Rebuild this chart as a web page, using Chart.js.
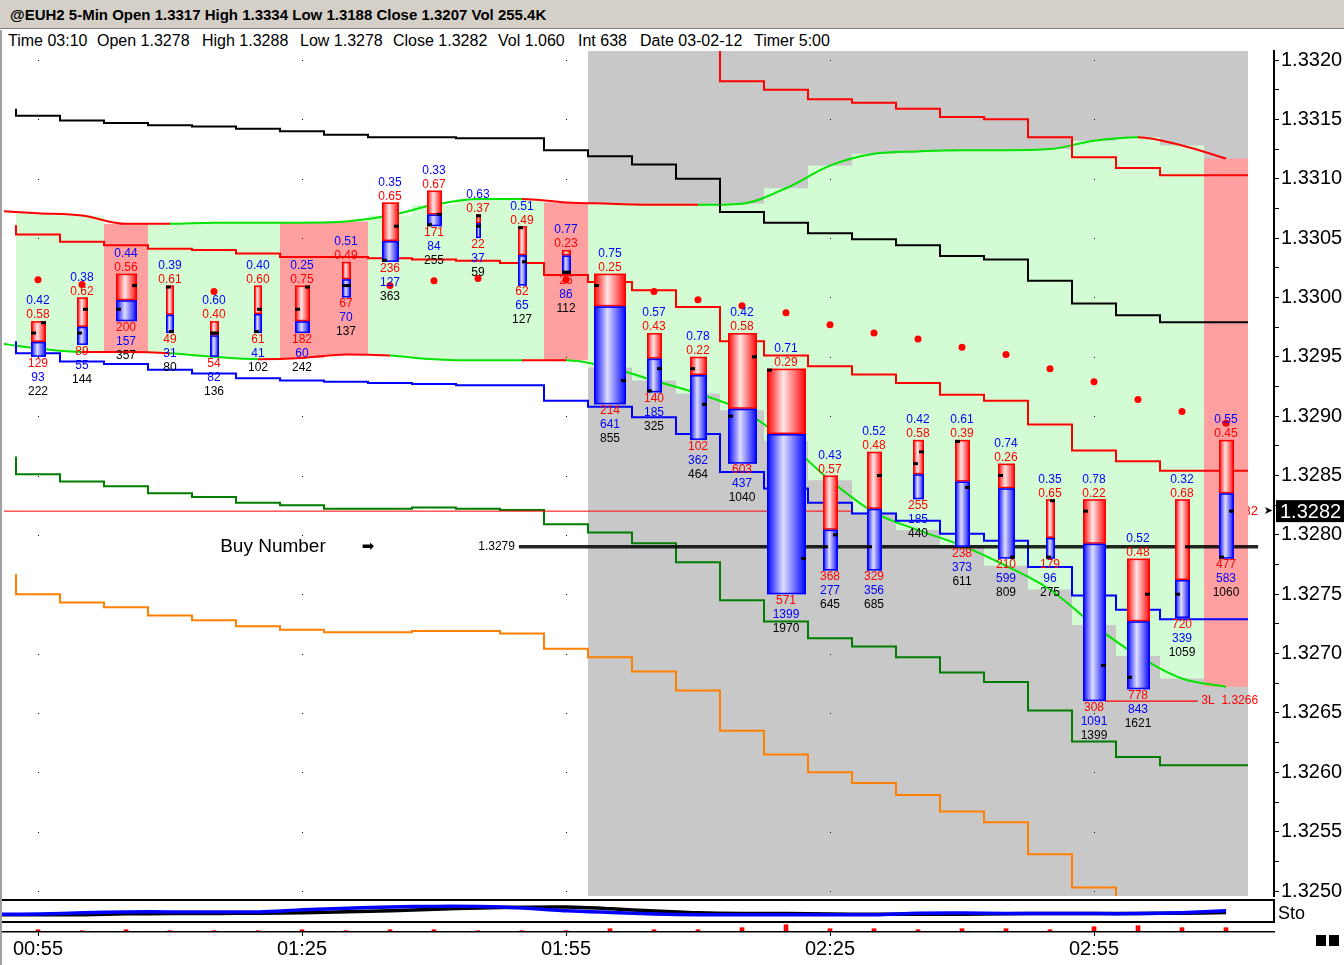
<!DOCTYPE html>
<html>
<head>
<meta charset="utf-8">
<title>@EUH2 5-Min</title>
<script src="https://cdn.jsdelivr.net/npm/chart.js@4.4.1/dist/chart.umd.min.js"></script>
<style>
  body { margin: 0; width: 1344px; height: 965px; overflow: hidden; background: #fff; position: relative;
         font-family: 'Liberation Sans', Arial, sans-serif; }
  .abs { position: absolute; }
  #title { left: 0; top: 0; width: 1344px; height: 29px; background: #d4d0c8; border-bottom: 1px solid #808080;
           box-sizing: border-box; padding-left: 10px; font-weight: bold; font-size: 15px; line-height: 29px; color: #000; }
  .info { top: 32px; font-size: 16px; line-height: 18px; white-space: nowrap; color: #000; }
  #frame { left: 0; top: 30px; width: 2px; height: 935px; background: #a0a0a0; }
  #main { left: 0; top: 47px; }
  #sto { left: 0; top: 900px; }
  #marks { left: 0; top: 922px; }
  .hl { height: 2px; background: #000; left: 0; width: 1275px; }
  .sq { width: 10px; height: 11px; background: #000; top: 935px; }
</style>
</head>
<body>
<div id="title" class="abs">@EUH2 5-Min Open 1.3317 High 1.3334 Low 1.3188 Close 1.3207 Vol 255.4K</div>
<span class="abs info" style="left:8px">Time 03:10</span>
<span class="abs info" style="left:97px">Open 1.3278</span>
<span class="abs info" style="left:202px">High 1.3288</span>
<span class="abs info" style="left:300px">Low 1.3278</span>
<span class="abs info" style="left:393px">Close 1.3282</span>
<span class="abs info" style="left:498px">Vol 1.060</span>
<span class="abs info" style="left:578px">Int 638</span>
<span class="abs info" style="left:640px">Date 03-02-12</span>
<span class="abs info" style="left:754px">Timer 5:00</span>

<canvas id="main" class="abs" width="1344" height="853"></canvas>
<canvas id="sto" class="abs" width="1344" height="22"></canvas>
<canvas id="marks" class="abs" width="1344" height="43"></canvas>

<div class="abs hl" style="top:899px"></div>
<div class="abs hl" style="top:921px;height:1.5px"></div>
<div class="abs" style="left:1273px;top:899px;width:2px;height:24px;background:#000"></div>
<div class="abs" style="left:1278px;top:903px;font-size:18px;line-height:20px">Sto</div>
<div class="abs sq" style="left:1316px"></div>
<div class="abs sq" style="left:1329px"></div>
<div id="frame" class="abs"></div>

<script>
const FONT = "'Liberation Sans', Arial, sans-serif";
const RED = '#ff0000', BLUE = '#0000ff', GREEN = '#00e400', DKGREEN = '#007d00', ORANGE = '#ff8000';

// 5-minute bars
const times = ['00:55','01:00','01:05','01:10','01:15','01:20','01:25','01:30','01:35','01:40','01:45','01:50',
               '01:55','02:00','02:05','02:10','02:15','02:20','02:25','02:30','02:35','02:40','02:45','02:50',
               '02:55','03:00','03:05','03:10'];
const opens  = [1.3297,1.3297,1.3299,1.3301,1.3297,1.3297,1.3299,1.3301,1.3303,1.3306,1.3307,1.3306,1.3302,1.3301,
                1.3292,1.3294,1.3290,1.3294,1.3279,1.3279,1.3286,1.3288,1.3285,1.3278,1.3282,1.3268,1.3275,1.3278];
const highs  = [1.3298,1.3300,1.3302,1.3301,1.3298,1.3301,1.3301,1.3303,1.3308,1.3309,1.3307,1.3306,1.3304,1.3302,
                1.3297,1.3295,1.3297,1.3294,1.3285,1.3287,1.3288,1.3288,1.3286,1.3283,1.3283,1.3278,1.3283,1.3288];
const lows   = [1.3295,1.3296,1.3298,1.3297,1.3295,1.3297,1.3297,1.3300,1.3303,1.3306,1.3305,1.3301,1.3302,1.3291,
                1.3292,1.3288,1.3286,1.3275,1.3277,1.3277,1.3283,1.3279,1.3278,1.3278,1.3266,1.3267,1.3273,1.3278];
const closes = [1.3298,1.3299,1.3301,1.3297,1.3297,1.3299,1.3301,1.3301,1.3306,1.3307,1.3306,1.3303,1.3302,1.3293,
                1.3294,1.3291,1.3295,1.3278,1.3280,1.3285,1.3287,1.3284,1.3278,1.3283,1.3269,1.3275,1.3279,1.3282];
const sellVol  = [129,89,200,49,54,61,182,67,236,171,22,62,26,214,140,102,603,571,368,329,255,238,210,179,308,778,720,477];
const buyVol   = [93,55,157,31,82,41,60,70,127,84,37,65,86,641,185,362,437,1399,277,356,185,373,599,96,1091,843,339,583];
const totalVol = [222,144,357,80,136,102,242,137,363,255,59,127,112,855,325,464,1040,1970,645,685,440,611,809,275,1399,1621,1059,1060];

// band (first value = start of the line left of the first bar)
const bandTop = [1.33073,1.33071,1.33069,1.33062,1.33062,1.33063,1.33063,1.33063,1.33064,1.33069,1.33078,1.33083,1.33083,
                 1.33080,1.33079,1.33078,1.33078,1.33079,1.33092,1.33111,1.33121,1.33123,1.33124,1.33124,1.33125,1.33132,
                 1.33135,1.33128,1.33117];
const bandBot = [1.32962,1.32957,1.32954,1.32954,1.32953,1.32950,1.32948,1.32949,1.32952,1.32951,1.32948,1.32947,1.32947,
                 1.32947,1.32941,1.32930,1.32919,1.32905,1.32879,1.32846,1.32819,1.32804,1.32791,1.32774,1.32754,1.32724,
                 1.32698,1.32679,1.32672];

// stepped levels, one value per bar (lead = where the step line starts)
const blackLead = 1.33159;
const blackLine = [1.33156,1.33153,1.33149,1.33147,1.33145,1.33144,1.33142,1.33140,1.33137,1.33135,1.33135,1.33134,1.33134,
                   1.33124,1.33119,1.33112,1.33100,1.33072,1.33063,1.33054,1.33049,1.33044,1.33035,1.33032,1.33014,1.32995,
                   1.32985,1.32979];
const upperRed = [null,null,null,null,null,null,null,null,null,null,null,null,null,null,null,null,
                  1.33208,1.33182,1.33175,1.33167,1.33164,1.33159,1.33152,1.33150,1.33135,1.33118,1.33109,1.33103];
const midRedLead = 1.33061;
const midRed = [1.33055,1.33053,1.33047,1.33044,1.33041,1.33040,1.33037,1.33034,1.33034,1.33033,1.33032,1.33031,1.33029,
                1.33019,1.33013,1.33006,1.32992,1.32963,1.32951,1.32942,1.32935,1.32928,1.32918,1.32913,1.32893,1.32871,
                1.32862,1.32854];
const blueLead = 1.32963;
const blueLine = [1.32957,1.32953,1.32946,1.32944,1.32939,1.32936,1.32932,1.32930,1.32929,1.32928,1.32927,1.32926,1.32926,
                  1.32913,1.32908,1.32899,1.32885,1.32853,1.32839,1.32827,1.32818,1.32812,1.32801,1.32795,1.32773,1.32749,
                  1.32737,1.32729];
const greenLead = 1.32866;
const greenLine = [1.32857,1.32851,1.32845,1.32841,1.32835,1.32832,1.32827,1.32825,1.32822,1.32822,1.32823,1.32822,1.32821,
                   1.32809,1.32802,1.32793,1.32777,1.32745,1.32727,1.32713,1.32706,1.32697,1.32684,1.32676,1.32652,1.32626,
                   1.32613,1.32606];
const orangeLead = 1.32767;
const orangeLine = [1.32758,1.32750,1.32743,1.32739,1.32732,1.32728,1.32723,1.32720,1.32718,1.32718,1.32719,1.32719,1.32717,
                    1.32704,1.32697,1.32685,1.32669,1.32635,1.32615,1.32600,1.32591,1.32581,1.32567,1.32558,1.32531,1.32503,
                    1.32488,1.32480];
const dots = [1.33015,1.33011,null,null,1.33005,null,null,null,1.33010,1.33014,1.33016,null,1.33015,null,
              1.33005,1.32998,1.32993,1.32987,1.32977,1.32970,1.32965,1.32958,1.32952,1.32940,1.32929,1.32914,1.32904,1.32894];

// lower panels
const stoBlue  = [34,40,45,45,45,45,57,65,72,75,74,66,51,42,34,30,30,30,30,30,38,39,37,36,36,36,41,51];
const stoBlack = [30,30,35,36,37,38,41,46,52,60,66,70,71,62,50,40,36,36,34,32,32,33,35,37,37,37,38,42];
const stoLead = { blue: 32, black: 30 };
const deltaMarks = [1,0,1,0,0,0,1,0,1,1,0,0,0,2,1,1,3,6,2,2,1,2,2,1,4,5,3,3];

const priceTicks = [1.3250,1.3255,1.3260,1.3265,1.3270,1.3275,1.3280,1.3285,1.3290,1.3295,1.3300,1.3305,1.3310,1.3315,1.3320];
const closePrice = 1.3282, buyPrice = 1.3279, lowPrice = 1.3266;

// styling / page geometry
const barPx = [15,11,21,8,9,8,15,9,17,15,5,9,9,32,15,17,29,39,15,15,11,15,17,9,23,23,15,15];
const pinkCols = [2,6,7,12,27];
const sessionStart = 13;
const bandTopColors = 'RRRRGGGGGGGGRRRRGGGGGGGGGGRR';
const bandBotColors = 'GGRRGGRRRGGGRGGGGGGGGGGGGGGG';
const BAR_STEP = 44, FIRST_BAR_X = 38;           // page px
const PX_PER_TICK = 59.36, TICK_Y_1_3320 = 60;  // page px per 0.0005, y of 1.3320
const xAt = px => (px - FIRST_BAR_X) / BAR_STEP;
const priceAt = pageY => 1.3320 - (pageY - TICK_Y_1_3320) / PX_PER_TICK * 0.0005;

const labelIdx = times.map((t, i) => (t.endsWith(':25') || t.endsWith(':55')) ? i : -1).filter(i => i >= 0);

function steps(lead, vals) {
  const pts = lead == null ? [] : [{ x: -0.5, y: lead }];
  vals.forEach((v, i) => pts.push({ x: i - 0.5, y: v }));
  pts.push({ x: vals.length - 0.5, y: vals[vals.length - 1] });
  return pts;
}
const stepSet = (data, color) => ({ data, borderColor: color, borderWidth: 2, stepped: 'after', pointRadius: 0, spanGaps: false });
const bandSet = (vals, colors) => ({
  data: vals.map((v, i) => ({ x: i - 1, y: v })), borderColor: GREEN, borderWidth: 2, pointRadius: 0,
  cubicInterpolationMode: 'monotone',
  segment: { borderColor: c => colors[c.p0DataIndex] === 'R' ? RED : GREEN }
});
const flat = (price, from, to, color, width) => ({
  data: [{ x: from, y: price }, { x: to, y: price }], borderColor: color, borderWidth: width, pointRadius: 0
});
const noPad = s => { s.paddingTop = 0; s.paddingBottom = 0; s.paddingLeft = 0; s.paddingRight = 0; };

// match the scale ranges to the chart area that Chart.js laid out
function calibrate(chart, canvasTop, withY) {
  const a = chart.chartArea, sc = chart.options.scales;
  sc.x.min = xAt(a.left); sc.x.max = xAt(a.right);
  if (withY) { sc.y.max = priceAt(canvasTop + a.top); sc.y.min = priceAt(canvasTop + a.bottom); }
  chart.update('none');
}

const backdrop = {
  id: 'backdrop',
  beforeDatasetsDraw(chart) {
    const { ctx, chartArea: a, scales: { x, y } } = chart;
    ctx.save();
    ctx.beginPath(); ctx.rect(a.left, a.top, a.right - a.left, a.bottom - a.top); ctx.clip();
    const g0 = x.getPixelForValue(sessionStart - 0.5), g1 = x.getPixelForValue(times.length - 0.5);
    ctx.fillStyle = '#c8c8c8';
    ctx.fillRect(g0, a.top, g1 - g0, a.bottom - a.top);
    times.forEach((t, i) => {
      const x0 = Math.round(x.getPixelForValue(i - 0.5)), x1 = Math.round(x.getPixelForValue(i + 0.5));
      const y0 = y.getPixelForValue(bandTop[i + 1]), y1 = y.getPixelForValue(bandBot[i + 1]);
      ctx.fillStyle = pinkCols.includes(i) ? '#ffa0a0' : '#d4fcd4';
      ctx.fillRect(x0, y0, x1 - x0, y1 - y0);
    });
    ctx.fillStyle = '#000';
    labelIdx.forEach(i => priceTicks.forEach(p => {
      ctx.fillRect(Math.round(x.getPixelForValue(i)), Math.round(y.getPixelForValue(p)), 1, 1);
    }));
    ctx.restore();
  }
};

const volumeBars = {
  id: 'volumeBars',
  afterDatasetsDraw(chart) {
    const { ctx, scales: { x, y } } = chart;
    ctx.save();
    times.forEach((t, i) => {
      const cx = Math.round(x.getPixelForValue(i));
      const w = barPx[i];
      const l = cx - Math.floor(w / 2), r = l + w;
      const yH = y.getPixelForValue(highs[i]), yL = y.getPixelForValue(lows[i]);
      const sellShare = sellVol[i] / totalVol[i];
      const yS = y.getPixelForValue(highs[i] - (highs[i] - lows[i]) * sellShare);
      const grad = (edge, light) => {
        const g = ctx.createLinearGradient(l, 0, r, 0);
        g.addColorStop(0, edge); g.addColorStop(0.42, light); g.addColorStop(1, edge);
        return g;
      };
      ctx.fillStyle = grad(RED, '#ffe6e6');
      ctx.fillRect(l, yH, w, yS - yH);
      ctx.fillStyle = grad(BLUE, '#dedeff');
      ctx.fillRect(l, yS, w, yL - yS);
      ctx.lineWidth = 1.5;
      ctx.strokeStyle = RED;
      ctx.strokeRect(l + 0.75, yH + 0.75, w - 1.5, Math.max(yS - yH - 1.5, 0));
      ctx.strokeStyle = BLUE;
      ctx.strokeRect(l + 0.75, yS + 0.75, w - 1.5, Math.max(yL - yS - 1.5, 0));

      // open tick on the left edge, close tick on the right edge
      const tickY = p => Math.min(Math.max(y.getPixelForValue(p) - 1.5, yH), yL - 3);
      ctx.fillStyle = '#000';
      ctx.fillRect(l, tickY(opens[i]), 5, 3);
      ctx.fillRect(r - 5, tickY(closes[i]), 5, 3);

      ctx.font = `12px ${FONT}`;
      ctx.textAlign = 'center';
      ctx.textBaseline = 'middle';
      ctx.fillStyle = BLUE; ctx.fillText((buyVol[i] / totalVol[i]).toFixed(2), cx, yH - 20);
      ctx.fillStyle = RED;  ctx.fillText(sellShare.toFixed(2), cx, yH - 6);
      ctx.fillStyle = RED;  ctx.fillText(String(sellVol[i]), cx, yL + 6.5);
      ctx.fillStyle = BLUE; ctx.fillText(String(buyVol[i]), cx, yL + 20.5);
      ctx.fillStyle = '#000'; ctx.fillText(String(totalVol[i]), cx, yL + 34.5);
    });
    ctx.restore();
  }
};

const notes = {
  id: 'notes',
  afterDraw(chart) {
    const { ctx, chartArea: a, scales: { x, y } } = chart;
    ctx.save();
    ctx.textBaseline = 'middle';
    const yb = y.getPixelForValue(buyPrice);
    ctx.fillStyle = '#000';
    ctx.textAlign = 'left';
    ctx.font = `19px ${FONT}`;
    ctx.fillText('Buy Number', x.getPixelForValue(4.14), yb);
    ctx.font = "15px 'DejaVu Sans'";
    ctx.textAlign = 'center';
    ctx.fillText('\u27A1', x.getPixelForValue(7.5), yb);
    ctx.font = `12px ${FONT}`;
    ctx.textAlign = 'right';
    ctx.fillText(buyPrice.toFixed(4), x.getPixelForValue(10.84), yb);

    ctx.fillStyle = RED;
    ctx.textAlign = 'left';
    ctx.fillText('3L  ' + lowPrice.toFixed(4), x.getPixelForValue(26.44), y.getPixelForValue(lowPrice));

    const yc = y.getPixelForValue(closePrice);
    const edge = x.getPixelForValue(times.length - 0.5);
    ctx.save();
    ctx.beginPath(); ctx.rect(edge, a.top, 11, a.bottom - a.top); ctx.clip();
    ctx.textAlign = 'right';
    ctx.font = `13px ${FONT}`;
    ctx.fillText(closePrice.toFixed(4), edge + 10, yc);
    ctx.restore();

    ctx.fillStyle = '#000';
    ctx.font = "11px 'DejaVu Sans'";
    ctx.textAlign = 'right';
    ctx.fillText('\u27A4', a.right - 1, yc);
    ctx.fillRect(a.right + 2, yc - 11, chart.width - a.right - 2, 22);
    ctx.fillStyle = '#fff';
    ctx.font = `20px ${FONT}`;
    ctx.textAlign = 'left';
    ctx.fillText(closePrice.toFixed(4), a.right + 6, yc + 1);
    ctx.restore();
  }
};

const tickValues = [];
priceTicks.forEach((p, i) => {
  tickValues.push(p);
  if (i < priceTicks.length - 1) tickValues.push((p + priceTicks[i + 1]) / 2);
});

const main = new Chart(document.getElementById('main'), {
  type: 'line',
  data: {
    datasets: [
      { data: dots.map((v, i) => ({ x: i, y: v })), showLine: false, pointRadius: 3.5, pointBorderWidth: 0,
        pointBackgroundColor: RED, borderColor: RED },
      flat(closePrice, -1, 18.5, RED, 1),
      flat(buyPrice, 10.93, 27.73, 'rgba(0,0,0,0.85)', 3.5),
      flat(lowPrice, 24.25, 26.36, RED, 1.2),
      stepSet(steps(blueLead, blueLine), BLUE),
      stepSet(steps(null, upperRed), RED),
      stepSet(steps(midRedLead, midRed), RED),
      stepSet(steps(blackLead, blackLine), '#000'),
      stepSet(steps(greenLead, greenLine), DKGREEN),
      stepSet(steps(orangeLead, orangeLine), ORANGE),
      bandSet(bandTop, bandTopColors),
      bandSet(bandBot, bandBotColors)
    ]
  },
  options: {
    responsive: false, animation: false, events: [],
    layout: { padding: 0 },
    plugins: { legend: { display: false }, tooltip: { enabled: false } },
    scales: {
      x: { type: 'linear', min: xAt(0), max: xAt(1274), display: false },
      y: {
        position: 'right', min: priceAt(900), max: priceAt(47),
        afterBuildTicks: s => { s.ticks = tickValues.map(v => ({ value: v })); },
        afterFit: s => { s.width = 70; noPad(s); },
        ticks: {
          autoSkip: false, padding: 2, color: '#000', font: { family: FONT, size: 20 },
          callback: v => priceTicks.some(p => Math.abs(p - v) < 1e-7) ? v.toFixed(4) : ''
        },
        grid: { drawOnChartArea: false, drawTicks: true, tickLength: 5, color: '#000' },
        border: { display: true, color: '#000', width: 2 }
      }
    }
  },
  plugins: [backdrop, volumeBars, notes]
});
calibrate(main, 47, true);

const sto = new Chart(document.getElementById('sto'), {
  type: 'line',
  data: {
    datasets: [
      { data: [{ x: xAt(0), y: stoLead.blue }].concat(stoBlue.map((v, i) => ({ x: i, y: v }))),
        borderColor: BLUE, borderWidth: 3.5, pointRadius: 0, tension: 0.3 },
      { data: [{ x: xAt(0), y: stoLead.black }].concat(stoBlack.map((v, i) => ({ x: i, y: v }))),
        borderColor: '#000', borderWidth: 3.5, pointRadius: 0, tension: 0.3 }
    ]
  },
  options: {
    responsive: false, animation: false, events: [],
    layout: { padding: { right: 70 } },
    plugins: { legend: { display: false }, tooltip: { enabled: false } },
    scales: {
      x: { type: 'linear', min: xAt(0), max: xAt(1274), display: false },
      y: { min: 0, max: 100, display: false }
    }
  }
});
calibrate(sto, 900, false);

const marks = new Chart(document.getElementById('marks'), {
  type: 'bar',
  data: {
    datasets: [{ data: deltaMarks.map((v, i) => ({ x: i, y: v })), backgroundColor: RED, barThickness: 4 }]
  },
  options: {
    responsive: false, animation: false, events: [],
    layout: { padding: { right: 70 } },
    plugins: { legend: { display: false }, tooltip: { enabled: false } },
    scales: {
      x: {
        type: 'linear', min: xAt(0), max: xAt(1274), position: 'bottom', offset: false,
        afterBuildTicks: s => { s.ticks = labelIdx.map(v => ({ value: v })); },
        afterFit: s => { s.height = 33; noPad(s); },
        ticks: { autoSkip: false, maxRotation: 0, padding: 1, color: '#000', font: { family: FONT, size: 20 },
                 callback: v => times[v] },
        grid: { offset: false, drawOnChartArea: false, drawTicks: true, tickLength: 4, color: '#000' },
        border: { display: true, color: '#000', width: 1.5 }
      },
      y: { min: -1.3, max: 8.7, display: false }
    }
  }
});
calibrate(marks, 922, false);
</script>
</body>
</html>
